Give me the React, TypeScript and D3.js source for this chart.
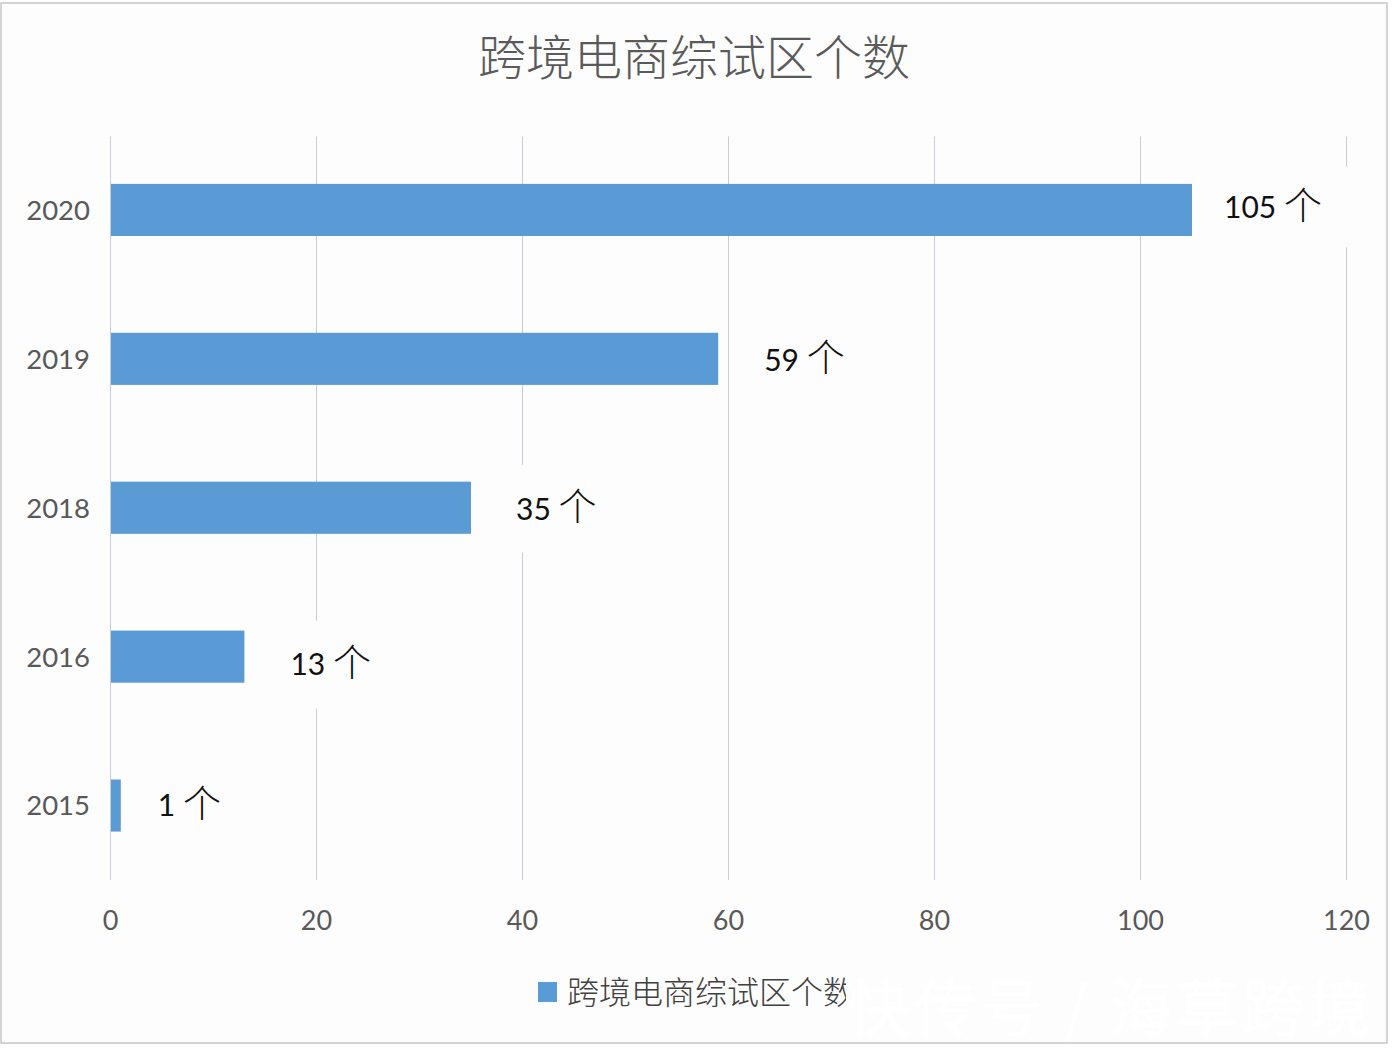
import { useEffect, useRef } from 'react';
import * as d3 from 'd3';

const years = ['2020', '2019', '2018', '2016', '2015'];
const counts = [105, 59, 35, 13, 1];
const xTicks = [0, 20, 40, 60, 80, 100, 120];
const chartTitle = '跨境电商综试区个数';
const unit = '个';
const watermark = '快传号 / 海草跨境';

const WIDTH = 1394;
const HEIGHT = 1048;
const BG = '#fdfdfe';
const CJK = '"Noto Sans CJK SC", "Noto Sans", sans-serif';
const LATIN = 'Lato, "Noto Sans CJK SC", sans-serif';

export default function App() {
  const svgRef = useRef<SVGSVGElement>(null);

  useEffect(() => {
    if (!svgRef.current) return;

    const svg = d3.select(svgRef.current);
    svg.selectAll('*').remove();

    const margin = { top: 136.5, right: 47.5, bottom: 168, left: 110.5 };
    const bottom = HEIGHT - margin.bottom;

    const x = d3.scaleLinear()
      .domain([0, 120])
      .range([margin.left, WIDTH - margin.right]);

    const y = d3.scaleBand()
      .domain(years)
      .range([margin.top - 1, bottom])
      .paddingInner(0.65)
      .paddingOuter(0.325);

    // Frame
    svg.append('rect')
      .attr('x', 1)
      .attr('y', 3)
      .attr('width', 1386)
      .attr('height', 1040)
      .attr('fill', BG)
      .attr('stroke', '#c4c6c9')
      .attr('stroke-width', 1.5);

    // Title
    svg.append('text')
      .attr('x', 694)
      .attr('y', 58)
      .attr('dy', '0.36em')
      .attr('text-anchor', 'middle')
      .attr('font-family', CJK)
      .attr('font-size', 48)
      .attr('font-weight', 300)
      .attr('fill', '#5a5a5a')
      .text(chartTitle);

    // X axis, the ticks are stretched up into gridlines
    const axis = svg.append('g')
      .attr('transform', `translate(0, ${bottom})`)
      .call(d3.axisBottom(x).tickValues(xTicks).tickSize(-(bottom - margin.top)).tickPadding(31).offset(0));

    axis.select('.domain').remove();
    axis.selectAll('.tick line')
      .attr('stroke', '#c8ccd4')
      .attr('stroke-width', 1);
    axis.selectAll('.tick text')
      .attr('font-family', LATIN)
      .attr('font-size', 27)
      .attr('fill', '#595959');

    // Hand-placed data labels: offset from the bar end and from the bar centre
    const labelDx = [32, 46, 45, 46, 37];
    const labelDy = [-3, 1, 1, 8, 0];

    const labels = years.map((year, i) => ({
      year,
      value: counts[i],
      lx: x(counts[i]) + labelDx[i],
      ly: (y(year) || 0) + y.bandwidth() / 2 + labelDy[i],
    }));

    // Patches in the background colour behind the labels cut the gridlines
    svg.append('g')
      .selectAll('rect')
      .data(labels)
      .enter()
      .append('rect')
      .attr('x', d => d.lx - 22)
      .attr('y', d => d.ly - 44)
      .attr('width', d => String(d.value).length * 30 + 58)
      .attr('height', 88)
      .attr('rx', 12)
      .attr('fill', BG);

    // Bars
    svg.append('g')
      .selectAll('rect')
      .data(labels)
      .enter()
      .append('rect')
      .attr('x', x(0) + 0.5)
      .attr('y', d => y(d.year) || 0)
      .attr('width', d => x(d.value) - x(0) - 0.5)
      .attr('height', y.bandwidth())
      .attr('fill', '#5b9bd5');

    // Category labels
    svg.append('g')
      .selectAll('text')
      .data(years)
      .enter()
      .append('text')
      .attr('x', 90)
      .attr('y', d => (y(d) || 0) + y.bandwidth() / 2)
      .attr('dy', '0.36em')
      .attr('text-anchor', 'end')
      .attr('font-family', LATIN)
      .attr('font-size', 27.5)
      .attr('fill', '#595959')
      .text(d => d);

    // Data labels
    const labelText = svg.append('g')
      .selectAll('text')
      .data(labels)
      .enter()
      .append('text')
      .attr('x', d => d.lx)
      .attr('y', d => d.ly)
      .attr('dy', '0.36em')
      .attr('font-family', LATIN)
      .attr('font-size', 30)
      .attr('fill', '#111111');

    labelText.append('tspan').text(d => `${d.value} `);
    labelText.append('tspan')
      .attr('font-family', CJK)
      .attr('font-size', 38)
      .attr('font-weight', 300)
      .attr('dy', '0.02em')
      .text(unit);

    // Legend, cut off on the right where the watermark was pasted over it
    svg.append('clipPath')
      .attr('id', 'legendClip')
      .append('rect')
      .attr('x', 530)
      .attr('y', 960)
      .attr('width', 316)
      .attr('height', 70);

    const legend = svg.append('g').attr('clip-path', 'url(#legendClip)');
    legend.append('rect')
      .attr('x', 538)
      .attr('y', 982)
      .attr('width', 19)
      .attr('height', 20)
      .attr('fill', '#5b9bd5');
    legend.append('text')
      .attr('x', 567)
      .attr('y', 992)
      .attr('dy', '0.36em')
      .attr('font-family', CJK)
      .attr('font-size', 32)
      .attr('font-weight', 300)
      .attr('fill', '#404040')
      .text(chartTitle);

    // Watermark
    svg.append('text')
      .attr('x', 848)
      .attr('y', 1031)
      .attr('font-family', CJK)
      .attr('font-size', 62)
      .attr('letter-spacing', 4)
      .attr('fill', '#ffffff')
      .text(watermark);
  }, []);

  return (
    <svg
      ref={svgRef}
      width={WIDTH}
      height={HEIGHT}
      style={{ position: 'absolute', left: 0, top: 0, background: '#ffffff' }}
    ></svg>
  );
}
